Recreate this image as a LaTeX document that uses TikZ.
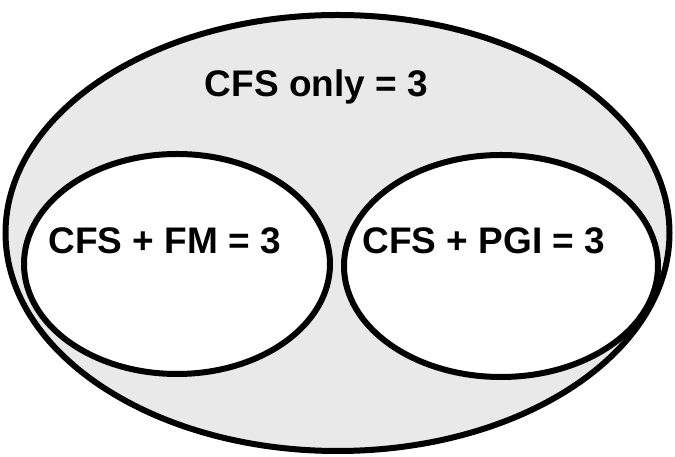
\documentclass[tikz,border=0pt]{standalone}
\usepackage{fontspec}
\setmainfont{Liberation Sans}
\begin{document}
\begin{tikzpicture}[x=1pt,y=1pt,
  setline/.style={draw=black,line width=6pt},
  lbl/.style={font=\fontsize{37}{40}\selectfont\bfseries,inner sep=0pt,anchor=base}]
\useasboundingbox (0,0) rectangle (675,457);
\draw[setline,fill=gray!17] (337.5,224) ellipse [x radius=332, y radius=218];
\draw[setline,fill=white] (177,193) ellipse [x radius=153, y radius=110];
\draw[setline,fill=white] (501,191) ellipse [x radius=157, y radius=111];
\node[lbl] (cfs) at (316.5,360) {CFS only = 3};
\node[lbl] (fm) at (164.5,203) {CFS + FM = 3};
\node[lbl] (pgi) at (484,203) {CFS + PGI = 3};
\end{tikzpicture}
\end{document}
